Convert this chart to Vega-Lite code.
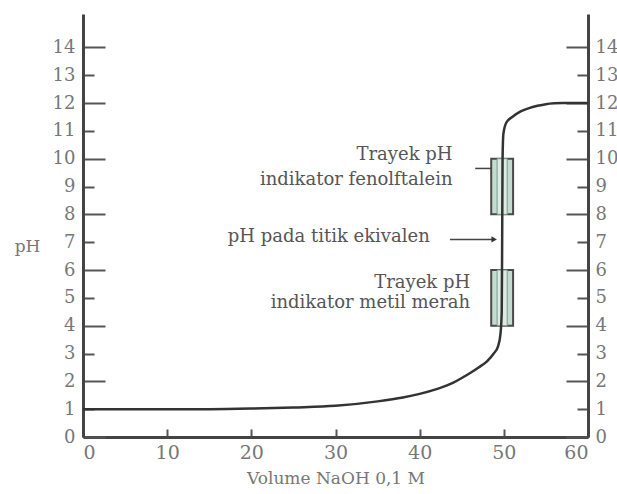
{
  "$schema": "https://vega.github.io/schema/vega-lite/v6.json",
  "width": 505,
  "height": 423,
  "autosize": {"type": "none"},
  "padding": {"left": 83, "top": 14, "right": 29, "bottom": 57},
  "background": "white",
  "config": {
    "view": {"stroke": null},
    "font": "DejaVu Serif",
    "axis": {"grid": false, "domainColor": "#444", "domainWidth": 3, "tickColor": "#555", "tickWidth": 2, "labelFont": "DejaVu Serif", "labelFontSize": 18, "labelColor": "#777", "titleFont": "DejaVu Serif", "titleFontWeight": "normal", "titleColor": "#777"}
  },
  "datasets": {
    "curve": [
      {"v": 0, "ph": 1.0}, {"v": 5, "ph": 1.0}, {"v": 10, "ph": 1.0}, {"v": 15, "ph": 1.0},
      {"v": 20, "ph": 1.02}, {"v": 25, "ph": 1.06}, {"v": 30, "ph": 1.12}, {"v": 35, "ph": 1.28},
      {"v": 38, "ph": 1.42}, {"v": 40, "ph": 1.55}, {"v": 42, "ph": 1.72}, {"v": 44, "ph": 1.95},
      {"v": 45, "ph": 2.12}, {"v": 46, "ph": 2.3}, {"v": 47, "ph": 2.5}, {"v": 48, "ph": 2.72},
      {"v": 48.8, "ph": 3.0}, {"v": 49.3, "ph": 3.25}, {"v": 49.6, "ph": 3.7}, {"v": 49.75, "ph": 4.5},
      {"v": 49.8, "ph": 7.0}, {"v": 49.85, "ph": 10.0}, {"v": 49.95, "ph": 10.9}, {"v": 50.3, "ph": 11.3},
      {"v": 51, "ph": 11.5}, {"v": 52, "ph": 11.7}, {"v": 53, "ph": 11.82}, {"v": 54, "ph": 11.9},
      {"v": 55, "ph": 11.96}, {"v": 56, "ph": 11.99}, {"v": 57, "ph": 12.0}, {"v": 60, "ph": 12.0}
    ],
    "ranges": [
      {"indikator": "fenolftalein", "x1": 48.5, "x2": 51.1, "lo": 8, "hi": 10, "ix1": 49.2, "ix2": 50.4},
      {"indikator": "metil merah", "x1": 48.5, "x2": 51.1, "lo": 4, "hi": 6, "ix1": 49.2, "ix2": 50.4}
    ],
    "labels": [
      {"text": "Trayek pH", "v": 43.9, "ph": 10.14},
      {"text": "indikator fenolftalein", "v": 43.9, "ph": 9.24},
      {"text": "pH pada titik ekivalen", "v": 41.2, "ph": 7.19},
      {"text": "Trayek pH", "v": 46.0, "ph": 5.54},
      {"text": "indikator metil merah", "v": 46.0, "ph": 4.82}
    ],
    "pointers": [
      {"name": "fenolftalein", "v1": 46.6, "v2": 48.5, "ph": 9.65},
      {"name": "ekivalen", "v1": 43.6, "v2": 48.7, "ph": 7.1}
    ],
    "arrowhead": [{"v": 48.85, "ph": 7.1}]
  },
  "layer": [
    {
      "data": {"name": "ranges"},
      "mark": {"type": "rect", "fill": "#c3dccf", "stroke": "#4a4a4a", "strokeWidth": 2},
      "encoding": {
        "x": {"field": "x1", "type": "quantitative", "scale": {"domain": [0, 60], "nice": false, "zero": false},
          "axis": {"orient": "bottom", "values": [0, 10, 20, 30, 40, 50, 60], "tickSize": -8, "labelPadding": 14, "title": "Volume NaOH 0,1 M", "titleFontSize": 17, "titlePadding": 8, "labelFontSize": 19}},
        "x2": {"field": "x2"},
        "y": {"field": "lo", "type": "quantitative", "scale": {"domain": [0, 15.2], "nice": false},
          "axis": {"orient": "left", "values": [0,1,2,3,4,5,6,7,8,9,10,11,12,13,14],
            "tickSize": {"expr": "datum.value % 2 === 0 ? -22 : -11"},
            "labelPadding": {"expr": "datum.value % 2 === 0 ? 30 : 19"},
            "title": "pH", "titleAngle": 0, "titleAlign": "center", "titleBaseline": "middle", "titleX": -56, "titleY": 232, "titleFontSize": 17}},
        "y2": {"field": "hi"}
      }
    },
    {
      "data": {"name": "ranges"},
      "mark": {"type": "rect", "fill": "#dcece4", "stroke": "#7d9a8c", "strokeWidth": 1},
      "encoding": {
        "x": {"field": "ix1", "type": "quantitative"},
        "x2": {"field": "ix2"},
        "y": {"field": "lo", "type": "quantitative", "axis": {"orient": "right", "values": [0,1,2,3,4,5,6,7,8,9,10,11,12,13,14],
            "tickSize": {"expr": "datum.value % 2 === 0 ? -22 : -11"},
            "labelPadding": {"expr": "datum.value % 2 === 0 ? 29 : 18"},
            "title": null}},
        "y2": {"field": "hi"}
      }
    },
    {
      "data": {"name": "curve"},
      "mark": {"type": "line", "color": "#333", "strokeWidth": 2.5, "interpolate": "monotone"},
      "encoding": {
        "x": {"field": "v", "type": "quantitative"},
        "y": {"field": "ph", "type": "quantitative", "axis": null}
      }
    },
    {
      "data": {"name": "pointers"},
      "mark": {"type": "rule", "color": "#444", "strokeWidth": 1.5},
      "encoding": {
        "x": {"field": "v1", "type": "quantitative"},
        "x2": {"field": "v2"},
        "y": {"field": "ph", "type": "quantitative", "axis": null}
      }
    },
    {
      "data": {"name": "arrowhead"},
      "mark": {"type": "point", "shape": "triangle-right", "filled": true, "color": "#333", "size": 40, "opacity": 1},
      "encoding": {
        "x": {"field": "v", "type": "quantitative"},
        "y": {"field": "ph", "type": "quantitative", "axis": null}
      }
    },
    {
      "data": {"name": "labels"},
      "mark": {"type": "text", "align": "right", "baseline": "middle", "font": "DejaVu Serif", "fontSize": 18, "color": "#555"},
      "encoding": {
        "x": {"field": "v", "type": "quantitative"},
        "y": {"field": "ph", "type": "quantitative", "axis": null},
        "text": {"field": "text"}
      }
    }
  ],
  "resolve": {"axis": {"y": "independent"}}
}
